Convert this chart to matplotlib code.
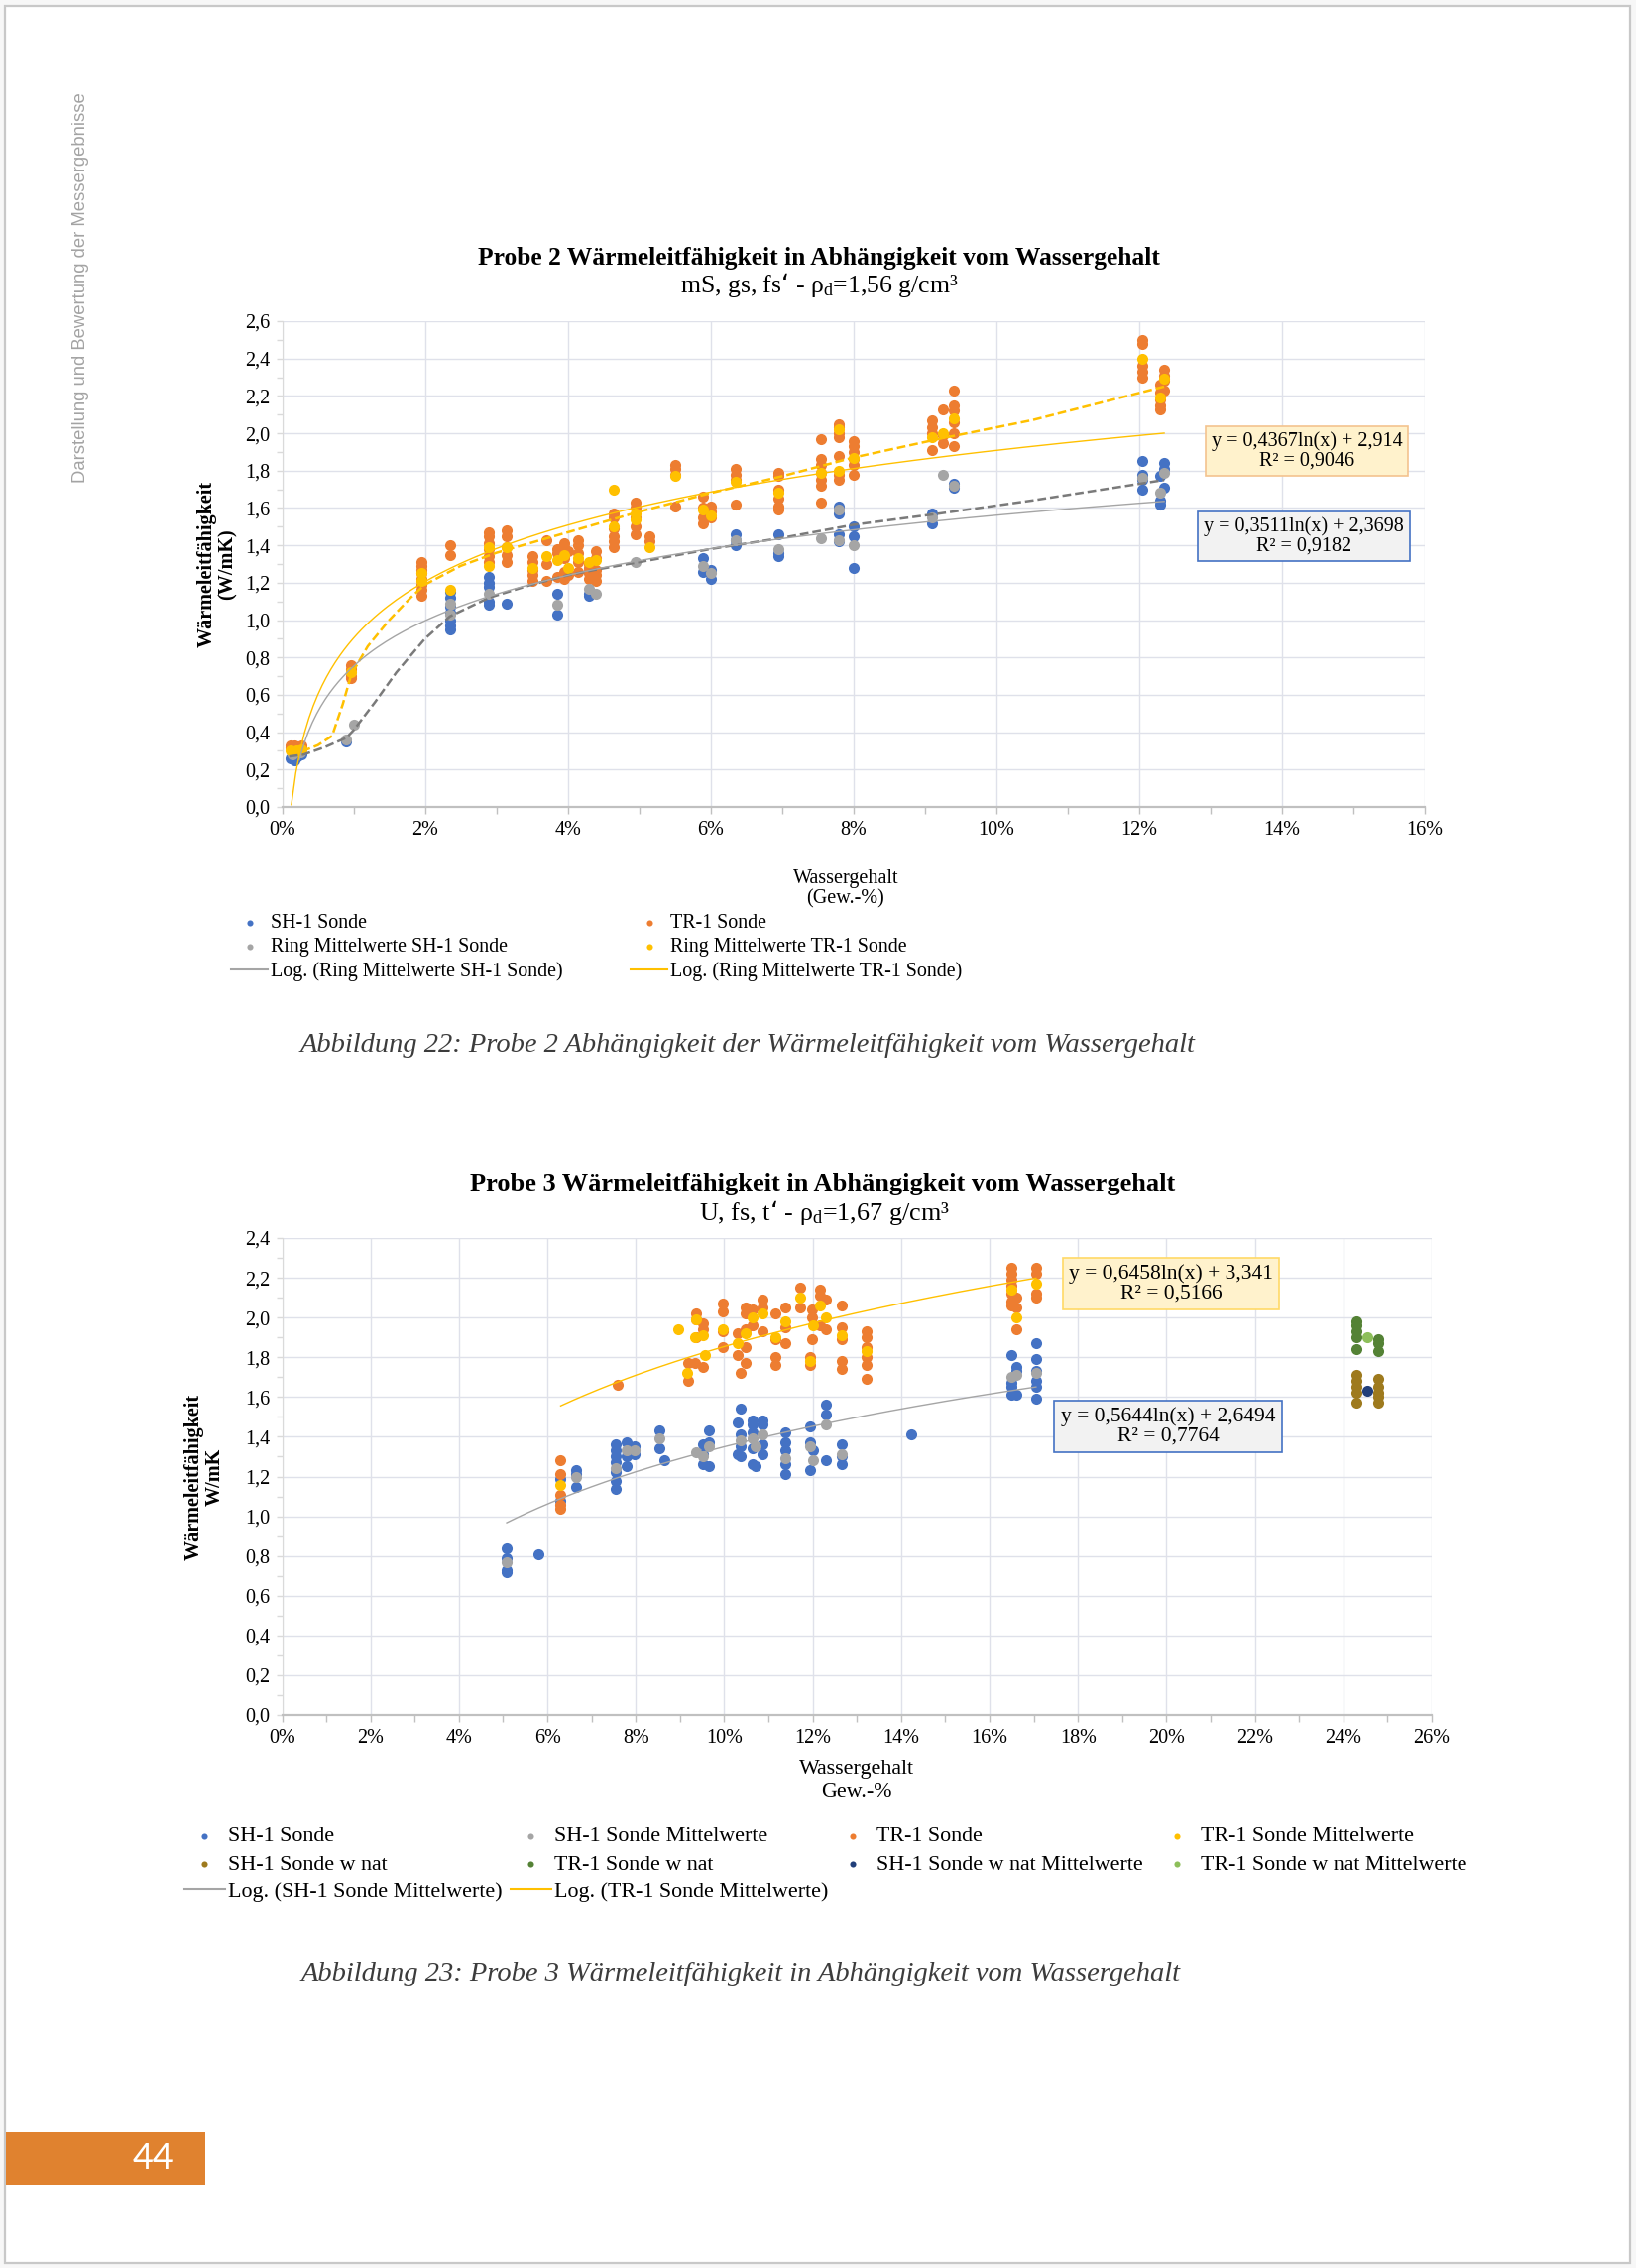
import numpy as np
import matplotlib.pyplot as plt
from matplotlib.lines import Line2D
from matplotlib.patches import Rectangle
from matplotlib.ticker import MultipleLocator, FuncFormatter

plt.rcParams['font.family'] = ['Liberation Serif', 'DejaVu Serif']

W, H = 1650, 2288


def fx(x):
    return x / W


def fy(y):
    return 1 - y / H


# ---------------- Probe 2 (chart 1) ----------------
# x in Gew.-%, each column position with its measured values
p2_sh_cols = [0.12, 0.17, 0.22, 0.27, 0.9, 2.35, 2.9, 3.15, 3.85, 4.3, 5.9, 6.0,
              6.35, 6.95, 7.8, 8.0, 9.1, 9.4, 12.05, 12.3, 12.35]
p2_sh_vals = [[0.26], [0.27, 0.25], [0.27], [0.28], [0.35],
              [1.15, 1.12, 1.07, 1.04, 1.00, 0.97, 0.95],
              [1.23, 1.20, 1.18, 1.10, 1.08], [1.09], [1.14, 1.03],
              [1.26, 1.14, 1.13], [1.33, 1.26], [1.27, 1.22],
              [1.46, 1.43, 1.40], [1.46, 1.36, 1.34],
              [1.61, 1.57, 1.46, 1.42], [1.50, 1.45, 1.28], [1.57, 1.52],
              [1.73, 1.71], [1.85, 1.78, 1.75, 1.70], [1.77, 1.64, 1.62],
              [1.84, 1.81, 1.71]]

p2_tr_cols = [0.12, 0.17, 0.22, 0.27, 0.97, 1.95, 2.35, 2.9, 3.15, 3.5, 3.7, 3.85,
              3.95, 4.0, 4.15, 4.3, 4.4, 4.65, 4.95, 5.15, 5.5, 5.9, 6.0, 6.35,
              6.95, 7.55, 7.8, 8.0, 9.1, 9.25, 9.4, 12.05, 12.3, 12.35]
p2_tr_vals = [[0.32, 0.33], [0.33, 0.31], [0.32], [0.31, 0.33],
              [0.76, 0.74, 0.70, 0.69],
              [1.31, 1.29, 1.27, 1.25, 1.22, 1.19, 1.16, 1.13],
              [1.40, 1.35], [1.47, 1.45, 1.41, 1.38, 1.34, 1.31],
              [1.48, 1.45, 1.39, 1.35, 1.31], [1.34, 1.31, 1.27, 1.24, 1.21],
              [1.43, 1.30, 1.21], [1.38, 1.36, 1.23],
              [1.41, 1.39, 1.33, 1.26, 1.22], [1.37, 1.24],
              [1.43, 1.40, 1.36, 1.31, 1.26], [1.30, 1.28, 1.25, 1.22],
              [1.37, 1.33, 1.27, 1.24, 1.21],
              [1.57, 1.55, 1.49, 1.45, 1.42, 1.39],
              [1.63, 1.60, 1.55, 1.50, 1.46], [1.45, 1.42],
              [1.83, 1.81, 1.78, 1.61], [1.66, 1.60, 1.55, 1.52],
              [1.61, 1.58, 1.55], [1.81, 1.78, 1.75, 1.62],
              [1.79, 1.77, 1.70, 1.65, 1.61, 1.59],
              [1.97, 1.86, 1.83, 1.79, 1.75, 1.72, 1.63],
              [2.05, 2.03, 2.00, 1.98, 1.88, 1.78, 1.75],
              [1.96, 1.93, 1.90, 1.86, 1.83, 1.78], [2.07, 2.03, 2.00, 1.91],
              [2.13, 1.99, 1.95], [2.23, 2.15, 2.12, 2.06, 2.00, 1.93],
              [2.50, 2.48, 2.36, 2.33, 2.30], [2.26, 2.22, 2.18, 2.15, 2.13],
              [2.34, 2.31, 2.28, 2.23]]

p2_ring_sh_x = [0.15, 0.25, 0.9, 1.0, 2.35, 2.35, 2.9, 3.85, 4.3, 4.4, 4.95, 5.9,
                6.0, 6.35, 6.95, 7.55, 7.8, 7.8, 8.0, 9.1, 9.25, 9.4, 12.05,
                12.3, 12.35]
p2_ring_sh_y = [0.28, 0.29, 0.36, 0.44, 1.09, 1.03, 1.14, 1.08, 1.17, 1.14, 1.31,
                1.29, 1.25, 1.43, 1.38, 1.44, 1.59, 1.43, 1.40, 1.55, 1.78, 1.72,
                1.76, 1.68, 1.79]

p2_ring_tr_x = [0.12, 0.2, 0.27, 0.97, 1.95, 1.95, 2.35, 2.9, 2.9, 3.15, 3.5,
                3.7, 3.85, 3.95, 4.0, 4.15, 4.3, 4.4, 4.65, 4.65, 4.95, 4.95,
                5.15, 5.5, 5.9, 6.0, 6.35, 6.95, 7.55, 7.8, 7.8, 8.0, 9.1, 9.25,
                9.4, 12.05, 12.3, 12.35]
p2_ring_tr_y = [0.30, 0.30, 0.31, 0.72, 1.25, 1.21, 1.16, 1.39, 1.29, 1.39, 1.28,
                1.34, 1.32, 1.35, 1.28, 1.33, 1.31, 1.32, 1.70, 1.50, 1.57, 1.54,
                1.39, 1.77, 1.59, 1.56, 1.74, 1.68, 1.79, 2.02, 1.80, 1.87, 1.98,
                2.00, 2.08, 2.40, 2.19, 2.29]

# dashed connecting lines through the ring means
p2_sh_dash_x = [0.1, 0.3, 0.6, 0.9, 1.0, 1.3, 1.6, 2.0, 2.35, 2.9, 3.5, 4.0,
                4.4, 5.0, 6.0, 7.0, 8.0, 9.2, 10.5, 12.35]
p2_sh_dash_y = [0.27, 0.28, 0.32, 0.37, 0.41, 0.56, 0.72, 0.90, 1.02, 1.12,
                1.19, 1.24, 1.27, 1.31, 1.38, 1.44, 1.51, 1.57, 1.64, 1.75]
p2_tr_dash_x = [0.1, 0.3, 0.5, 0.7, 0.85, 0.97, 1.2, 1.5, 1.8, 2.0, 2.5, 3.0,
                4.0, 5.0, 6.0, 7.0, 8.0, 9.2, 10.5, 12.35]
p2_tr_dash_y = [0.30, 0.30, 0.33, 0.38, 0.55, 0.71, 0.86, 1.00, 1.12, 1.19,
                1.29, 1.36, 1.47, 1.58, 1.68, 1.77, 1.87, 1.97, 2.07, 2.25]

# log trendlines: y = a*ln(x) + b, drawn over [start, end] in %
p2_trend_sh = (0.3511, 2.3698, 0.24, 12.35)
p2_trend_tr = (0.4367, 2.914, 0.13, 12.35)

# ---------------- Probe 3 (chart 2) ----------------
p3_sh_cols = [5.08, 5.8, 6.3, 6.65, 7.55, 7.8, 7.98, 8.54, 8.64, 9.51, 9.66,
              10.3, 10.36, 10.63, 10.7, 10.86, 11.38, 11.94, 12.0, 12.3, 12.65,
              14.23, 16.5, 16.6, 17.05]
p3_sh_vals = [[0.84, 0.79, 0.73, 0.72], [0.81], [1.19, 1.08], [1.23, 1.21, 1.15],
              [1.36, 1.33, 1.30, 1.27, 1.22, 1.18, 1.14], [1.37, 1.30, 1.25],
              [1.35, 1.31], [1.43, 1.34], [1.28], [1.36, 1.31, 1.26],
              [1.43, 1.37, 1.25], [1.47, 1.31], [1.54, 1.41, 1.35, 1.30],
              [1.48, 1.46, 1.42, 1.34, 1.26], [1.25], [1.48, 1.46, 1.36, 1.31],
              [1.42, 1.37, 1.33, 1.26, 1.21], [1.45, 1.37, 1.23], [1.33],
              [1.56, 1.51, 1.28], [1.36, 1.30, 1.26], [1.41],
              [1.81, 1.67, 1.65, 1.61], [1.75, 1.73, 1.61],
              [1.87, 1.79, 1.73, 1.68, 1.65, 1.59]]

p3_sh_mean_x = [5.08, 6.65, 7.55, 7.8, 7.98, 8.54, 9.37, 9.51, 9.66, 10.36,
                10.63, 10.7, 10.86, 11.38, 11.94, 12.0, 12.3, 12.65, 16.5, 16.6,
                17.05]
p3_sh_mean_y = [0.77, 1.20, 1.24, 1.33, 1.33, 1.39, 1.32, 1.30, 1.35, 1.38,
                1.39, 1.35, 1.41, 1.29, 1.35, 1.28, 1.46, 1.31, 1.70, 1.71, 1.72]

p3_tr_cols = [6.3, 7.6, 9.18, 9.33, 9.37, 9.51, 9.96, 10.3, 10.36, 10.49, 10.63,
              10.86, 11.16, 11.38, 11.72, 11.94, 11.98, 12.16, 12.31, 12.65,
              13.21, 16.5, 16.6, 17.05]
p3_tr_vals = [[1.28, 1.21, 1.11, 1.06, 1.04], [1.66], [1.77, 1.68], [1.77],
              [2.02, 1.99, 1.90], [1.97, 1.94, 1.75], [2.07, 2.03, 1.93, 1.85],
              [1.92, 1.81], [1.72], [2.05, 2.02, 1.94, 1.85, 1.77], [2.04, 1.96],
              [2.09, 2.05, 1.93], [2.02, 1.89, 1.80, 1.76], [2.05, 1.95, 1.87],
              [2.15, 2.05], [1.80, 1.76], [2.04, 2.00, 1.89], [2.14, 2.11, 1.96],
              [2.09, 1.94], [2.06, 1.95, 1.89, 1.78, 1.74],
              [1.93, 1.90, 1.85, 1.80, 1.76, 1.69],
              [2.25, 2.22, 2.19, 2.16, 2.12, 2.08, 2.06], [2.10, 2.05, 1.94],
              [2.25, 2.22, 2.12, 2.10]]

p3_tr_mean_x = [6.3, 8.96, 9.17, 9.33, 9.37, 9.51, 9.57, 9.96, 10.3, 10.49,
                10.63, 10.86, 11.16, 11.38, 11.72, 11.94, 12.0, 12.16, 12.3,
                12.65, 13.21, 16.5, 16.6, 17.05]
p3_tr_mean_y = [1.16, 1.94, 1.72, 1.90, 1.99, 1.91, 1.81, 1.94, 1.87, 1.92,
                2.00, 2.02, 1.90, 1.98, 2.10, 1.78, 1.96, 2.06, 2.00, 1.91,
                1.83, 2.14, 2.00, 2.17]

p3_sh_wnat_x = [24.3, 24.3, 24.3, 24.3, 24.3, 24.8, 24.8, 24.8, 24.8, 24.8]
p3_sh_wnat_y = [1.71, 1.68, 1.65, 1.62, 1.57, 1.69, 1.65, 1.62, 1.60, 1.57]
p3_tr_wnat_x = [24.3, 24.3, 24.3, 24.3, 24.3, 24.8, 24.8, 24.8]
p3_tr_wnat_y = [1.98, 1.96, 1.93, 1.90, 1.84, 1.89, 1.87, 1.83]
p3_sh_wnat_mean_x = [24.55]
p3_sh_wnat_mean_y = [1.63]
p3_tr_wnat_mean_x = [24.55]
p3_tr_wnat_mean_y = [1.90]

p3_trend_sh = (0.5644, 2.6494, 5.08, 17.05)
p3_trend_tr = (0.6458, 3.341, 6.3, 17.05)

# colours (Excel default palette)
C_BLUE = '#4472C4'
C_ORANGE = '#ED7D31'
C_GRAY = '#A5A5A5'
C_YELLOW = '#FFC000'
C_BROWN = '#9E7A1E'
C_DGREEN = '#548235'
C_NAVY = '#223F7A'
C_LGREEN = '#8DBF5A'


def flatten(cols, vals):
    xs, ys = [], []
    for c, vs in zip(cols, vals):
        for v in vs:
            xs.append(c)
            ys.append(v)
    return xs, ys


def trend(ax, coef, color):
    a, b, x0, x1 = coef
    xs = np.linspace(x0, x1, 200)
    ax.plot(xs, a * np.log(xs / 100.0) + b, color=color, lw=1.0, zorder=5)


def style_axes(ax, xmax, ymax):
    ax.set_xlim(0, xmax)
    ax.set_ylim(0, ymax)
    ax.xaxis.set_major_locator(MultipleLocator(2))
    ax.xaxis.set_minor_locator(MultipleLocator(1))
    ax.yaxis.set_major_locator(MultipleLocator(0.2))
    ax.yaxis.set_minor_locator(MultipleLocator(0.1))
    ax.xaxis.set_major_formatter(FuncFormatter(lambda v, p: '%d%%' % round(v)))
    ax.yaxis.set_major_formatter(
        FuncFormatter(lambda v, p: ('%.1f' % v).replace('.', ',')))
    ax.grid(True, which='major', color='#dfe1ea', lw=1.0)
    ax.set_axisbelow(True)
    ax.spines['top'].set_visible(False)
    ax.spines['right'].set_visible(False)
    ax.spines['left'].set_color('#dadada')
    ax.spines['bottom'].set_color('#c0c0c0')
    ax.spines['bottom'].set_linewidth(1.6)
    ax.tick_params(axis='x', which='both', length=5, width=1.0,
                   color='#c0c0c0', labelsize=14.5, pad=5)
    ax.tick_params(axis='y', which='both', length=4, width=1.0,
                   color='#dadada', labelsize=14.5, pad=5)


fig = plt.figure(figsize=(W / 100, H / 100), dpi=100)
fig.patch.set_facecolor('#f7f7f7')
fig.add_artist(Rectangle((fx(5), fy(2283)), 1639 / W, 2277 / H,
                         transform=fig.transFigure, facecolor='white',
                         edgecolor='#c8c8c8', lw=1.6, zorder=-5))
fig.add_artist(Rectangle((fx(6), fy(2204)), 201 / W, 53 / H,
                         transform=fig.transFigure, facecolor='#E0822F',
                         edgecolor='none', zorder=-4))
fig.text(fx(155), fy(2177), '44', color='white', fontsize=26,
         family='Lato', ha='center', va='center')
fig.text(fx(82), fy(290), 'Darstellung und Bewertung der Messergebnisse',
         rotation=90, color='#a3a3a3', fontsize=13.3,
         family='Liberation Sans', ha='center', va='center')

MS = 64

# ---------------- chart 1 ----------------
ax1 = fig.add_axes([fx(284.5), fy(814), (1437 - 284.5) / W, (814 - 324) / H])
style_axes(ax1, 16, 2.6)

x, y = flatten(p2_sh_cols, p2_sh_vals)
h_sh = ax1.scatter(x, y, s=MS, color=C_BLUE, lw=0, zorder=3)
x, y = flatten(p2_tr_cols, p2_tr_vals)
h_tr = ax1.scatter(x, y, s=MS, color=C_ORANGE, lw=0, zorder=3)
h_rsh = ax1.scatter(p2_ring_sh_x, p2_ring_sh_y, s=MS, color=C_GRAY, lw=0, zorder=4)
h_rtr = ax1.scatter(p2_ring_tr_x, p2_ring_tr_y, s=MS, color=C_YELLOW, lw=0, zorder=4)
ax1.plot(p2_sh_dash_x, p2_sh_dash_y, color='#7a7a7a', lw=1.8,
         ls=(0, (3.5, 1.6)), zorder=5)
ax1.plot(p2_tr_dash_x, p2_tr_dash_y, color=C_YELLOW, lw=1.8,
         ls=(0, (3.5, 1.6)), zorder=5)
trend(ax1, p2_trend_sh, C_GRAY)
trend(ax1, p2_trend_tr, C_YELLOW)

fig.text(fx(826), fy(260), 'Probe 2 Wärmeleitfähigkeit in Abhängigkeit vom Wassergehalt',
         fontsize=18.4, weight='bold', ha='center', va='center')
fig.text(fx(826), fy(288), 'mS, gs, fs‘ - $\\mathregular{ρ_d}$=1,56 g/cm³',
         fontsize=18.5, ha='center', va='center')
fig.text(fx(219), fy(569), 'Wärmeleitfähigkeit\n(W/mK)', fontsize=14.5,
         weight='bold', rotation=90, ha='center', va='center', linespacing=1.05)
fig.text(fx(853), fy(897), 'Wassergehalt\n(Gew.-%)', fontsize=14.5,
         ha='center', va='center', linespacing=1.1)

fig.text(fx(1318), fy(455), 'y = 0,4367ln(x) + 2,914\nR² = 0,9046', fontsize=14.5,
         ha='center', va='center', linespacing=1.0,
         bbox=dict(boxstyle='square,pad=0.3', fc='#FFF2CC', ec='#F4C38F', lw=1.2))
fig.text(fx(1315), fy(541), 'y = 0,3511ln(x) + 2,3698\nR² = 0,9182', fontsize=14.5,
         ha='center', va='center', linespacing=1.0,
         bbox=dict(boxstyle='square,pad=0.3', fc='#F2F2F2', ec=C_BLUE, lw=1.2))

l_sh = Line2D([], [], color=C_GRAY, lw=1.5)
l_tr = Line2D([], [], color=C_YELLOW, lw=1.5)
leg_kw = dict(loc='upper left', frameon=False, borderpad=0, borderaxespad=0,
              handlelength=1.85, handletextpad=0.15, scatterpoints=1,
              markerscale=0.55)
fig.legend([h_sh, h_rsh, l_sh],
           ['SH-1 Sonde', 'Ring Mittelwerte SH-1 Sonde',
            'Log. (Ring Mittelwerte SH-1 Sonde)'],
           bbox_to_anchor=(fx(233), fy(922)), fontsize=14.4, labelspacing=0.26,
           **leg_kw)
fig.legend([h_tr, h_rtr, l_tr],
           ['TR-1 Sonde', 'Ring Mittelwerte TR-1 Sonde',
            'Log. (Ring Mittelwerte TR-1 Sonde)'],
           bbox_to_anchor=(fx(636), fy(922)), fontsize=14.4, labelspacing=0.26,
           **leg_kw)

fig.text(fx(754), fy(1055),
         'Abbildung 22: Probe 2 Abhängigkeit der Wärmeleitfähigkeit vom Wassergehalt',
         fontsize=20.5, style='italic', color='#3c3c3c', ha='center', va='center')

# ---------------- chart 2 ----------------
ax2 = fig.add_axes([fx(284.5), fy(1730), (1444 - 284.5) / W, (1730 - 1249) / H])
style_axes(ax2, 26, 2.4)

x, y = flatten(p3_sh_cols, p3_sh_vals)
g_sh = ax2.scatter(x, y, s=MS, color=C_BLUE, lw=0, zorder=3)
g_shm = ax2.scatter(p3_sh_mean_x, p3_sh_mean_y, s=MS, color=C_GRAY, lw=0, zorder=4)
x, y = flatten(p3_tr_cols, p3_tr_vals)
g_tr = ax2.scatter(x, y, s=MS, color=C_ORANGE, lw=0, zorder=3)
g_trm = ax2.scatter(p3_tr_mean_x, p3_tr_mean_y, s=MS, color=C_YELLOW, lw=0, zorder=4)
g_shw = ax2.scatter(p3_sh_wnat_x, p3_sh_wnat_y, s=MS, color=C_BROWN, lw=0, zorder=3)
g_trw = ax2.scatter(p3_tr_wnat_x, p3_tr_wnat_y, s=MS, color=C_DGREEN, lw=0, zorder=3)
g_shwm = ax2.scatter(p3_sh_wnat_mean_x, p3_sh_wnat_mean_y, s=MS, color=C_NAVY,
                     lw=0, zorder=4)
g_trwm = ax2.scatter(p3_tr_wnat_mean_x, p3_tr_wnat_mean_y, s=MS, color=C_LGREEN,
                     lw=0, zorder=4)
trend(ax2, p3_trend_sh, C_GRAY)
trend(ax2, p3_trend_tr, C_YELLOW)

fig.text(fx(830), fy(1195), 'Probe 3 Wärmeleitfähigkeit in Abhängigkeit vom Wassergehalt',
         fontsize=19, weight='bold', ha='center', va='center')
fig.text(fx(831), fy(1224), 'U, fs, t‘ - $\\mathregular{ρ_d}$=1,67 g/cm³',
         fontsize=18.8, ha='center', va='center')
fig.text(fx(206), fy(1490), 'Wärmeleitfähigkeit\nW/mK', fontsize=14.5,
         weight='bold', rotation=90, ha='center', va='center', linespacing=1.05)
fig.text(fx(864), fy(1797), 'Wassergehalt\nGew.-%', fontsize=15.8,
         ha='center', va='center', linespacing=1.22)

fig.text(fx(1181), fy(1295), 'y = 0,6458ln(x) + 3,341\nR² = 0,5166', fontsize=15.5,
         ha='center', va='center', linespacing=1.0,
         bbox=dict(boxstyle='square,pad=0.3', fc='#FFF2CC', ec='#FFD966', lw=1.2))
fig.text(fx(1178), fy(1439), 'y = 0,5644ln(x) + 2,6494\nR² = 0,7764', fontsize=15.5,
         ha='center', va='center', linespacing=1.0,
         bbox=dict(boxstyle='square,pad=0.3', fc='#F2F2F2', ec=C_BLUE, lw=1.2))

leg2 = dict(leg_kw, fontsize=15.8, labelspacing=0.36)
fig.legend([g_sh, g_shw, l_sh],
           ['SH-1 Sonde', 'SH-1 Sonde w nat', 'Log. (SH-1 Sonde Mittelwerte)'],
           bbox_to_anchor=(fx(186), fy(1842)), **leg2)
fig.legend([g_shm, g_trw, l_tr],
           ['SH-1 Sonde Mittelwerte', 'TR-1 Sonde w nat',
            'Log. (TR-1 Sonde Mittelwerte)'],
           bbox_to_anchor=(fx(515), fy(1842)), **leg2)
fig.legend([g_tr, g_shwm], ['TR-1 Sonde', 'SH-1 Sonde w nat Mittelwerte'],
           bbox_to_anchor=(fx(840), fy(1842)), **leg2)
fig.legend([g_trm, g_trwm], ['TR-1 Sonde Mittelwerte', 'TR-1 Sonde w nat Mittelwerte'],
           bbox_to_anchor=(fx(1167), fy(1842)), **leg2)

fig.text(fx(747), fy(1991),
         'Abbildung 23: Probe 3 Wärmeleitfähigkeit in Abhängigkeit vom Wassergehalt',
         fontsize=20.5, style='italic', color='#3c3c3c', ha='center', va='center')

fig.savefig('out.png', dpi=100, facecolor=fig.get_facecolor())
